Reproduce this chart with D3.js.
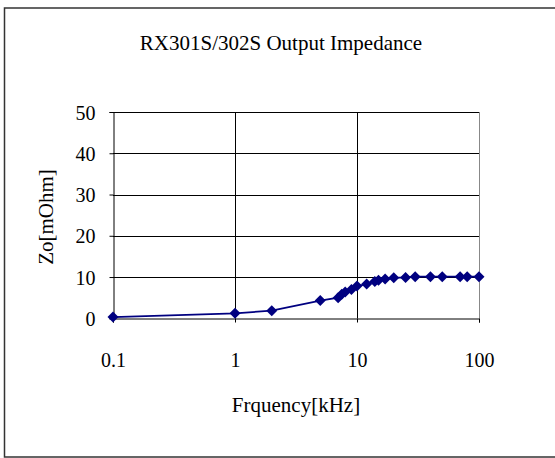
<!DOCTYPE html>
<html><head><meta charset="utf-8">
<script src="https://cdn.jsdelivr.net/npm/d3@7"></script>
<style>body{margin:0;background:#fff}svg{display:block}</style>
</head><body><svg id="c" width="555" height="458"></svg>
<script>
const title = "RX301S/302S Output Impedance";
const xTitle = "Frquency[kHz]";
const yTitle = "Zo[mOhm]";
const freq = [0.1, 1, 2, 5, 7, 7.5, 8, 9, 10, 12, 14, 15, 17, 20, 25, 30, 40, 50, 70, 80, 100];
const zo   = [0.3, 1.2, 1.85, 4.3, 5.0, 5.8, 6.4, 7.0, 7.8, 8.3, 8.9, 9.2, 9.5, 9.8, 9.9, 10.1, 10.1, 10.1, 10.1, 10.1, 10.1];
const xTicks = [0.1, 1, 10, 100];
const yTicks = [0, 10, 20, 30, 40, 50];

const FONT = "'Liberation Serif', 'Times New Roman', 'DejaVu Serif', serif";
const svg = d3.select("#c").attr("font-family", FONT);
const L = 113, R = 479, T = 112, B = 318.3;
const x = d3.scaleLog().domain([0.1, 100]).range([L, R]);
const y = d3.scaleLinear().domain([0, 50]).range([B, T]);

// outer border
svg.append("rect").attr("x", 4.5).attr("y", 8).attr("width", 555).attr("height", 449)
  .attr("fill", "none").attr("stroke", "#333").attr("stroke-width", 1.5);

// horizontal gridlines
svg.append("g").selectAll("line").data(yTicks.filter(d => d > 0)).join("line")
  .attr("x1", L).attr("x2", R).attr("y1", d => Math.round(y(d)) + 0.5).attr("y2", d => Math.round(y(d)) + 0.5)
  .attr("stroke", "#000").attr("stroke-width", 1);
// vertical gridlines
svg.append("g").selectAll("line").data(xTicks.slice(1, -1)).join("line")
  .attr("y1", T).attr("y2", B).attr("x1", d => Math.round(x(d)) + 0.5).attr("x2", d => Math.round(x(d)) + 0.5)
  .attr("stroke", "#000").attr("stroke-width", 1);
svg.append("line").attr("x1", Math.round(R) + 0.5).attr("x2", Math.round(R) + 0.5).attr("y1", T).attr("y2", B)
  .attr("stroke", "#888").attr("stroke-width", 1);

// axes
const xAxis = d3.axisBottom(x).tickValues(xTicks).tickSize(4).tickFormat(d => String(d));
const gx = svg.append("g").attr("transform", `translate(0,${Math.round(B) + 0.5})`).call(xAxis)
  .attr("font-family", FONT).attr("font-size", 20);
gx.select(".domain").attr("stroke", "#000");
gx.selectAll(".tick line").attr("stroke", "#000");
gx.selectAll(".tick text").attr("font-family", FONT).attr("font-size", 20).attr("fill", "#000")
  .attr("y", 0).attr("dy", 0).attr("transform", "translate(0,48)");

const yAxis = d3.axisLeft(y).tickValues(yTicks).tickSize(4);
const gy = svg.append("g").attr("transform", `translate(${Math.round(L) + 0.5},0)`).call(yAxis)
  .attr("font-family", FONT).attr("font-size", 20);
gy.select(".domain").attr("stroke", "#000");
gy.selectAll(".tick line").attr("stroke", "#000");
gy.selectAll(".tick text").attr("font-family", FONT).attr("font-size", 20).attr("fill", "#000")
  .attr("x", -18).attr("dy", "0.35em");

// line
const line = d3.line().x((d, i) => x(freq[i])).y(d => y(d));
svg.append("path").datum(zo).attr("d", line).attr("fill", "none")
  .attr("stroke", "#000080").attr("stroke-width", 1.8);

// markers (diamonds)
const s = 5.5;
svg.append("g").selectAll("path").data(zo).join("path")
  .attr("d", (d, i) => {
    const cx = x(freq[i]), cy = y(d);
    return `M${cx},${cy - s}L${cx + s},${cy}L${cx},${cy + s}L${cx - s},${cy}Z`;
  })
  .attr("fill", "#000080");

// titles
svg.append("text").attr("x", 281).attr("y", 50).attr("text-anchor", "middle")
  .attr("font-family", FONT).attr("font-size", 21).text(title);
svg.append("text").attr("x", 296).attr("y", 412).attr("text-anchor", "middle")
  .attr("font-family", FONT).attr("font-size", 21).text(xTitle);
svg.append("text").attr("transform", "translate(53,217) rotate(-90)").attr("text-anchor", "middle")
  .attr("font-family", FONT).attr("font-size", 21).text(yTitle);
</script></body></html>
